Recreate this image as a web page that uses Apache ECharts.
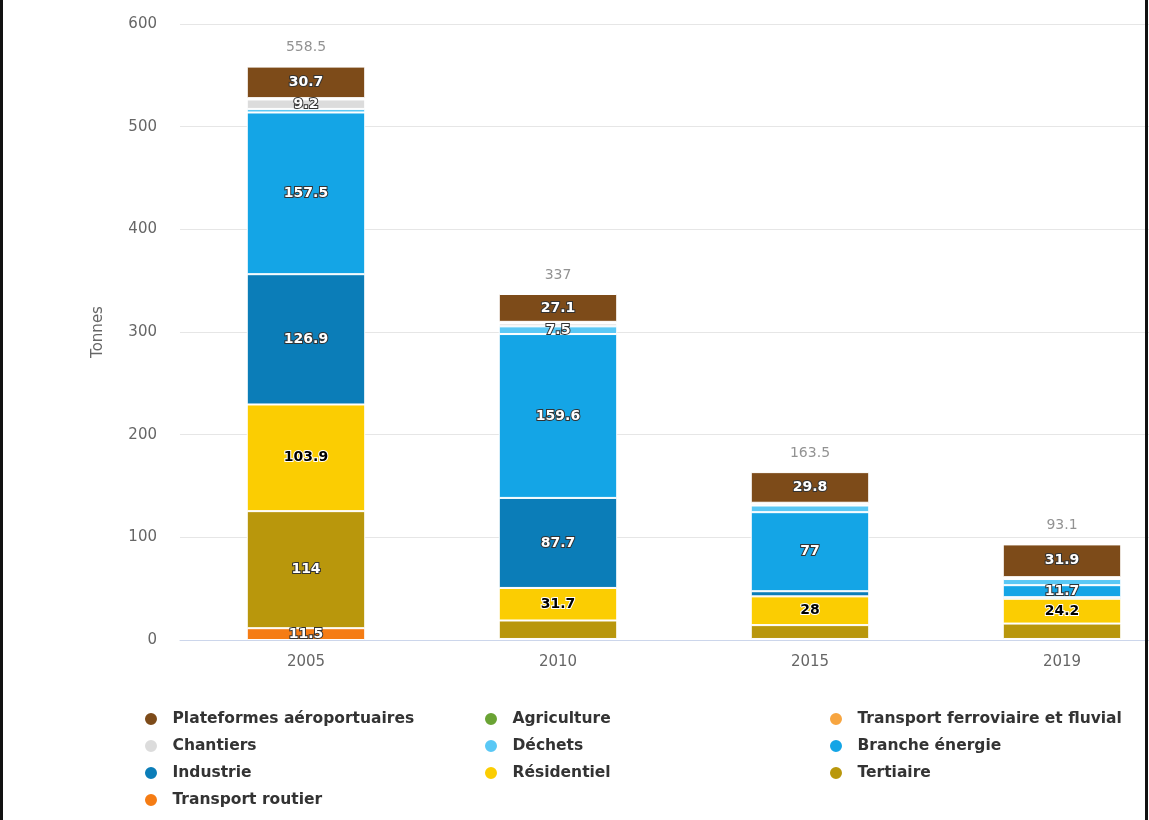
<!DOCTYPE html>
<html>
<head>
<meta charset="utf-8">
<script src="https://cdn.jsdelivr.net/npm/echarts@6/dist/echarts.min.js"></script>
<style>
  html, body { margin: 0; padding: 0; background: #fff; }
  #wrap { position: relative; width: 1149px; height: 820px; overflow: hidden; }
  #chart { position: absolute; left: 0; top: 0; width: 1149px; height: 820px; }
  .edge { position: absolute; top: 0; width: 3px; height: 820px; background: #111; }
</style>
</head>
<body>
<div id="wrap">
  <div id="chart"></div>
  <div class="edge" style="left:0"></div>
  <div class="edge" style="right:1px"></div>
</div>
<script>
// années (catégories)
const years = ['2005', '2010', '2015', '2019'];

// valeurs par secteur, en tonnes (empilées de bas en haut)
const transportRoutier = [11.5, 1.0, 1.0, 1.0];
const tertiaire = [114, 18.0, 13.5, 15.0];
const residentiel = [103.9, 31.7, 28, 24.2];
const industrie = [126.9, 87.7, 5.0, 1.5];
const brancheEnergie = [157.5, 159.6, 77, 11.7];
const dechets = [3.5, 7.5, 6.5, 6.0];
const chantiers = [9.2, 2.9, 1.7, 1.0];
const transportFerroviaire = [1.0, 1.0, 0.8, 0.5];
const agriculture = [0.3, 0.5, 0.2, 0.3];
const plateformes = [30.7, 27.1, 29.8, 31.9];

// totaux affichés au-dessus des barres
const totals = [558.5, 337, 163.5, 93.1];

// graduations de l'axe Y
const yTicks = [0, 100, 200, 300, 400, 500, 600];

// étiquettes visibles (les autres sont masquées car trop serrées)
const labelledYears = {
  'Transport routier': ['2005'],
  'Tertiaire': ['2005'],
  'Résidentiel': ['2005', '2010', '2015', '2019'],
  'Industrie': ['2005', '2010'],
  'Branche énergie': ['2005', '2010', '2015', '2019'],
  'Déchets': ['2010'],
  'Chantiers': ['2005'],
  'Plateformes aéroportuaires': ['2005', '2010', '2015', '2019']
};

const FONT = 'DejaVu Sans';

const sectors = [
  { name: 'Transport routier', data: transportRoutier, color: '#f57c14' },
  { name: 'Tertiaire', data: tertiaire, color: '#b9970c' },
  { name: 'Résidentiel', data: residentiel, color: '#fbcd02', dark: true },
  { name: 'Industrie', data: industrie, color: '#0b7db8' },
  { name: 'Branche énergie', data: brancheEnergie, color: '#14a5e6' },
  { name: 'Déchets', data: dechets, color: '#5ac8f5' },
  { name: 'Chantiers', data: chantiers, color: '#dcdcdc' },
  { name: 'Transport ferroviaire et fluvial', data: transportFerroviaire, color: '#f7a540' },
  { name: 'Agriculture', data: agriculture, color: '#6aa334' },
  { name: 'Plateformes aéroportuaires', data: plateformes, color: '#7d4b19' }
];

const chart = echarts.init(document.getElementById('chart'));

const barSeries = sectors.map(s => {
  const shown = labelledYears[s.name] || [];
  return {
    name: s.name,
    type: 'bar',
    stack: 'total',
    barWidth: '47%',
    itemStyle: { color: s.color, borderColor: '#fff', borderWidth: 1 },
    label: {
      position: 'inside',
      fontFamily: FONT,
      fontSize: 14,
      fontWeight: 'bold',
      color: s.dark ? '#000' : '#fff',
      textBorderColor: s.dark ? '#fff' : '#333',
      textBorderWidth: 2,
      formatter: p => String(p.value)
    },
    data: s.data.map((v, i) => ({
      value: v,
      label: { show: shown.includes(years[i]) }
    }))
  };
});

const legendCommon = {
  orient: 'vertical',
  icon: 'circle',
  itemWidth: 33,
  itemHeight: 14,
  itemGap: 11,
  top: 706,
  textStyle: { fontFamily: FONT, fontSize: 15.5, fontWeight: 'bold', color: '#333' }
};

chart.setOption({
  animation: false,
  grid: { left: 180, width: 1008, top: 24, bottom: 180, outerBoundsMode: 'none' },
  legend: [
    Object.assign({}, legendCommon, {
      left: 138,
      data: ['Plateformes aéroportuaires', 'Chantiers', 'Industrie', 'Transport routier']
    }),
    Object.assign({}, legendCommon, {
      left: 478,
      data: ['Agriculture', 'Déchets', 'Résidentiel']
    }),
    Object.assign({}, legendCommon, {
      left: 823,
      data: ['Transport ferroviaire et fluvial', 'Branche énergie', 'Tertiaire']
    })
  ],
  xAxis: {
    type: 'category',
    data: years,
    axisLine: { lineStyle: { color: '#ccd6eb' } },
    axisTick: { show: false },
    axisLabel: { color: '#666', fontFamily: FONT, fontSize: 15, margin: 15 }
  },
  yAxis: {
    type: 'value',
    min: yTicks[0],
    max: yTicks[yTicks.length - 1],
    interval: 100,
    name: 'Tonnes',
    nameLocation: 'middle',
    nameGap: 74,
    nameTextStyle: { color: '#666', fontFamily: FONT, fontSize: 15 },
    axisLine: { show: false },
    axisTick: { show: false },
    axisLabel: { color: '#666', fontFamily: FONT, fontSize: 15, margin: 23 },
    splitLine: { lineStyle: { color: '#e6e6e6' } }
  },
  series: barSeries.concat([{
    name: 'Total',
    type: 'scatter',
    symbolSize: 0,
    z: 10,
    silent: true,
    label: {
      show: true,
      position: 'top',
      distance: 12,
      color: '#777',
      fontFamily: FONT,
      fontSize: 14,
      formatter: p => String(p.value)
    },
    data: totals
  }])
});
</script>
</body>
</html>
